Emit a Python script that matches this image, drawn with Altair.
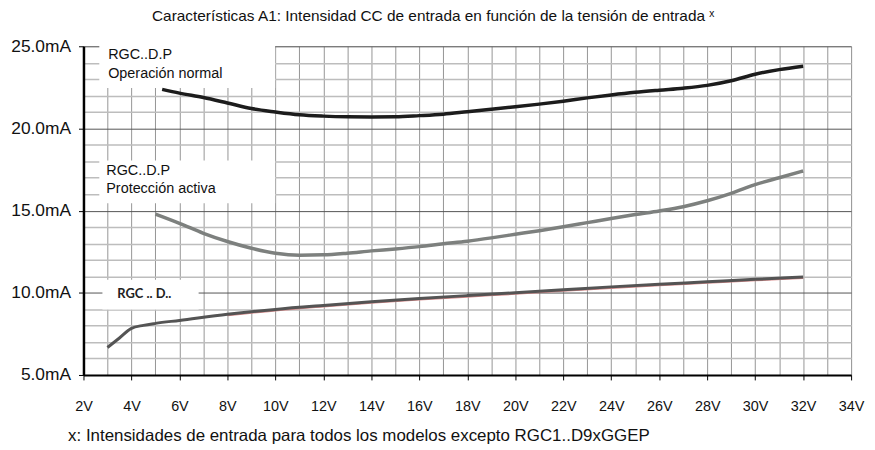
import altair as alt
import pandas as pd

# ---- data ----
normal_v = [5.28, 6, 7, 8, 9, 10, 11, 12, 13, 14, 15, 16, 17, 18, 19, 20, 21, 22, 23, 24, 25, 26, 27, 28, 29, 30, 31, 32]
normal_ma = [22.38, 22.15, 21.88, 21.55, 21.21, 21.0, 20.83, 20.75, 20.71, 20.70, 20.71, 20.78, 20.87, 21.02, 21.17, 21.32,
             21.48, 21.66, 21.86, 22.04, 22.2, 22.33, 22.45, 22.62, 22.9, 23.3, 23.58, 23.79]

prot_v = [5, 6, 7, 8, 9, 10, 11, 12, 13, 14, 15, 16, 17, 18, 19, 20, 21, 22, 23, 24, 25, 26, 27, 28, 29, 30, 31, 32]
prot_ma = [14.79, 14.23, 13.62, 13.12, 12.71, 12.41, 12.29, 12.31, 12.41, 12.55, 12.67, 12.81, 12.98, 13.14, 13.34, 13.56,
           13.78, 14.02, 14.27, 14.52, 14.76, 14.98, 15.24, 15.6, 16.05, 16.58, 17.0, 17.41]

base_v = [3, 3.5, 4, 4.5, 5, 6, 8, 10, 12, 14, 16, 18, 20, 22, 24, 26, 28, 30, 32]
base_ma = [6.67, 7.25, 7.84, 8.02, 8.14, 8.32, 8.69, 8.99, 9.23, 9.45, 9.65, 9.83, 10.0, 10.18, 10.36, 10.52, 10.67, 10.82, 10.96]

x_grid = list(range(2, 35))
y_grid = list(range(5, 26))

title_text = "Características A1: Intensidad CC de entrada en función de la tensión de entrada ˣ"
footnote = "x: Intensidades de entrada para todos los modelos excepto RGC1..D9xGGEP"

# annotation boxes (in data units: volts / mA)
box_x = [2.66, 2.66, 2.79]
box_x2 = [9.99, 9.99, 6.8]
box_y = [25.4, 18.05, 10.8]
box_y2 = [22.46, 15.45, 8.99]

label_text = ["RGC..D.P", "Operación normal", "RGC..D.P", "Protección activa"]
label_v = [3.03, 3.03, 2.95, 2.95]
label_ma = [24.21, 23.07, 17.15, 16.06]

small_label = ["RGC .. D.."]
small_v = [3.41]
small_ma = [9.71]

FONT = "Liberation Sans"

xs = alt.Scale(domain=[2, 34], nice=False, zero=False)
ys = alt.Scale(domain=[5, 25], nice=False, zero=False)

x_axis = alt.Axis(
    values=x_grid,
    labelExpr="datum.value % 2 === 0 ? datum.value + 'V' : ''",
    grid=True, gridColor="#959595", gridWidth=1,
    tickColor="#000", tickSize=5,
    tickOpacity={"condition": {"test": "datum.value % 2 === 0", "value": 1}, "value": 0},
    domainColor="#000", domainWidth=2,
    labelFont=FONT, labelFontSize=14.5, labelColor="#111", labelPadding=20,
    labelFlush=False, labelOverlap=False,
    title=footnote, titleFont=FONT, titleFontSize=17, titleFontWeight="normal",
    titleColor="#111", titleX=-16, titleY=66, titleAlign="left", titleBaseline="alphabetic",
    titleAnchor="start",
)
y_axis = alt.Axis(
    values=y_grid,
    labelExpr="datum.value % 5 === 0 ? format(datum.value, '.1f') + 'mA' : ''",
    grid=True,
    gridColor={"condition": {"test": "datum.value % 5 === 0", "value": "#555555"}, "value": "#bdbdbd"},
    gridWidth={"condition": {"test": "datum.value % 5 === 0", "value": 1}, "value": 1.5},
    tickColor="#000", tickSize=5,
    tickOpacity={"condition": {"test": "datum.value % 5 === 0", "value": 1}, "value": 0},
    domainColor="#000", domainWidth=2.5,
    labelFont=FONT, labelFontSize=17.5, labelColor="#111", labelPadding=8,
    labelFlush=False, labelOverlap=False,
    title=None,
)


def X(field):
    return alt.X(field, type="quantitative", scale=xs, axis=x_axis)


def Y(field):
    return alt.Y(field, type="quantitative", scale=ys, axis=y_axis)


def line_df(v, ma):
    return pd.DataFrame({"v": v, "ma": ma})


boxes = alt.Chart(pd.DataFrame({"x": box_x, "x2": box_x2, "y": box_y, "y2": box_y2})).mark_rect(
    color="white", opacity=1
).encode(x=X("x"), x2="x2:Q", y=Y("y"), y2="y2:Q")

l_normal = alt.Chart(line_df(normal_v, normal_ma)).mark_line(
    color="#1c1c1c", strokeWidth=3.5, interpolate="monotone", strokeCap="butt"
).encode(x=X("v"), y=Y("ma"))

l_prot = alt.Chart(line_df(prot_v, prot_ma)).mark_line(
    color="#7d807e", strokeWidth=3.5, interpolate="monotone", strokeCap="butt"
).encode(x=X("v"), y=Y("ma"))

l_base_red = alt.Chart(line_df(base_v[6:], base_ma[6:])).mark_line(
    color="#d88a8a", strokeWidth=2.5, interpolate="monotone", yOffset=0.8
).encode(x=X("v"), y=Y("ma"))

l_base = alt.Chart(line_df(base_v, base_ma)).mark_line(
    color="#545454", strokeWidth=3, interpolate="monotone", strokeCap="butt"
).encode(x=X("v"), y=Y("ma"))

labels = alt.Chart(pd.DataFrame({"t": label_text, "v": label_v, "ma": label_ma})).mark_text(
    align="left", baseline="alphabetic", font=FONT, fontSize=14.5, color="#111"
).encode(x=X("v"), y=Y("ma"), text="t:N")

small = alt.Chart(pd.DataFrame({"t": small_label, "v": small_v, "ma": small_ma})).mark_text(
    align="left", baseline="alphabetic", font="Lato", fontSize=13, fontWeight="bold", color="#222"
).encode(x=X("v"), y=Y("ma"), text="t:N")

chart = alt.layer(boxes, l_prot, l_base_red, l_base, l_normal, labels, small).properties(
    width=773, height=331,
    autosize=alt.AutoSizeParams(type="none"),
    padding={"left": 76, "top": 37, "right": 16, "bottom": 72},
    title=alt.Title(title_text, font=FONT, fontSize=15.5, fontWeight="normal", color="#111",
                    anchor="start", frame="group", dx=69, offset=1, baseline="alphabetic"),
).configure_view(stroke="#888", strokeWidth=1.5).configure(background="white")

chart.save("out.html", embed_options={"renderer": "svg", "actions": False})
